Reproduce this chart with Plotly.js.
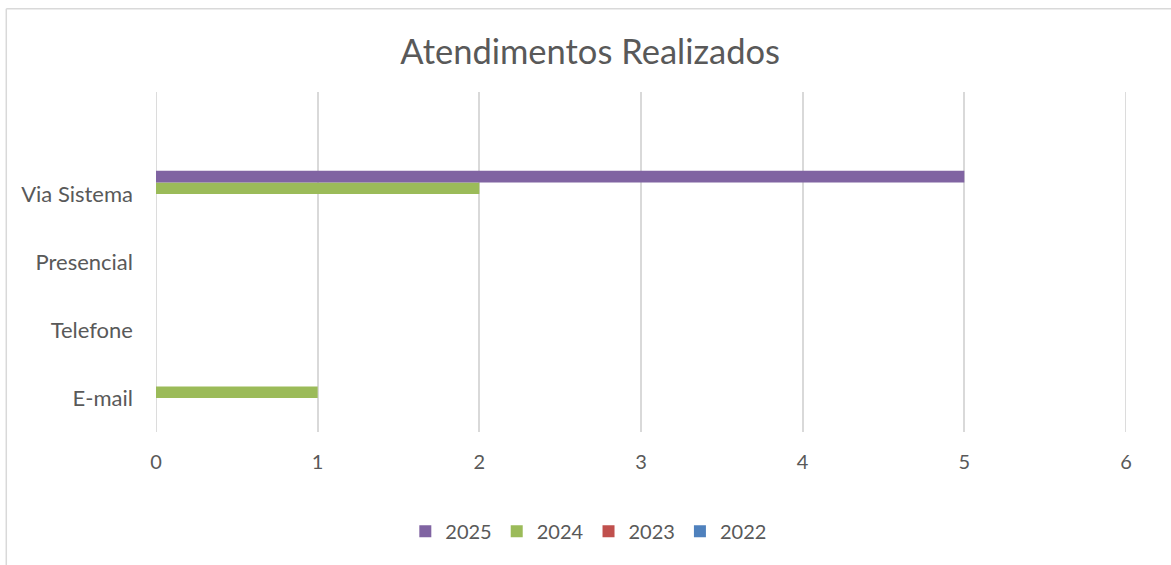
<!DOCTYPE html>
<html>
<head>
<meta charset="utf-8">
<script src="https://cdn.plot.ly/plotly-3.0.1.min.js"></script>
<style>
html,body{margin:0;padding:0;background:#fff;overflow:hidden;}
#chart{width:1171px;height:565px;}
</style>
</head>
<body>
<div id="chart"></div>
<script>
const categories = ['E-mail', 'Telefone', 'Presencial', 'Via Sistema'];
const years = ['2022', '2023', '2024', '2025'];
const values2022 = [0, 0, 0, 0];
const values2023 = [0, 0, 0, 0];
const values2024 = [1, 0, 0, 2];
const values2025 = [0, 0, 0, 5];
const xTicks = [0, 1, 2, 3, 4, 5, 6];

const seriesValues = [values2022, values2023, values2024, values2025];
const colors = ['#4F81BD', '#C0504D', '#9BBB59', '#8064A2'];

const FONT = 'Lato, "Open Sans", sans-serif';
const TXT = '#595959';
const GRID = '#d9d9d9';

const traces = years.map((yr, i) => ({
  type: 'bar',
  orientation: 'h',
  name: yr,
  y: categories,
  x: seriesValues[i],
  marker: {color: colors[i], line: {width: 0}},
  hoverinfo: 'x+y+name'
}));

const xMin = xTicks[0];
const xMax = xTicks[xTicks.length - 1];

const edgeGrid = [xMin, xMax].map(v => ({
  type: 'line', xref: 'x', yref: 'paper', layer: 'below',
  x0: v, x1: v, y0: 0, y1: 1,
  line: {color: GRID, width: 1.8}
}));

const layout = {
  width: 1171,
  height: 565,
  margin: {l: 155.5, r: 45, t: 92, b: 133.3},
  paper_bgcolor: '#ffffff',
  plot_bgcolor: '#ffffff',
  font: {family: FONT, color: TXT, size: 20},
  title: {
    text: 'Atendimentos Realizados',
    font: {family: FONT, size: 34.5, color: TXT},
    xref: 'container', x: 0.504, xanchor: 'center',
    yref: 'container', y: 0.908, yanchor: 'middle'
  },
  barmode: 'group',
  bargap: 0.318,
  bargroupgap: 0,
  xaxis: {
    range: [xMin, xMax],
    tickvals: xTicks,
    ticktext: xTicks.map(String),
    showgrid: true,
    gridcolor: GRID,
    gridwidth: 1.8,
    zeroline: false,
    showline: false,
    ticks: '',
    ticklabelstandoff: 16,
    tickfont: {family: FONT, size: 20, color: TXT},
    fixedrange: true
  },
  yaxis: {
    type: 'category',
    categoryorder: 'array',
    categoryarray: categories,
    range: [-0.5, 4.5],
    showgrid: false,
    zeroline: false,
    showline: false,
    ticks: '',
    ticklabelstandoff: 22,
    tickfont: {family: FONT, size: 22, color: TXT},
    fixedrange: true
  },
  showlegend: true,
  legend: {
    orientation: 'h',
    traceorder: 'reversed',
    x: 0.4462, xanchor: 'center',
    y: -0.292, yanchor: 'middle',
    font: {family: FONT, size: 20, color: TXT},
    itemwidth: 30,
    tracegroupgap: 0,
    bgcolor: 'rgba(0,0,0,0)'
  },
  shapes: edgeGrid.concat([
    {type: 'line', xref: 'paper', yref: 'paper',
     x0: (5.7 - 155.5) / 970.5, x1: 1.3, y0: (431.7 - 8.5) / 340, y1: (431.7 - 8.5) / 340,
     line: {color: GRID, width: 1.5}},
    {type: 'line', xref: 'paper', yref: 'paper',
     x0: (5.7 - 155.5) / 970.5, x1: (5.7 - 155.5) / 970.5, y0: (431.7 - 8.5) / 340, y1: -1,
     line: {color: GRID, width: 1.5}}
  ])
};

Plotly.newPlot('chart', traces, layout, {displayModeBar: false, staticPlot: true});
</script>
</body>
</html>
